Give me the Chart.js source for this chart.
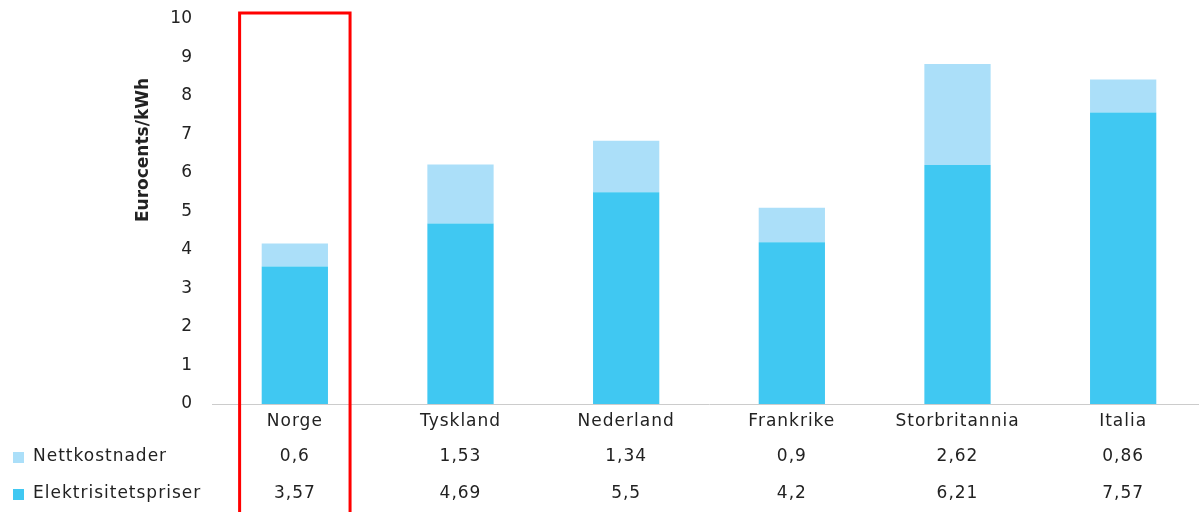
<!DOCTYPE html>
<html>
<head>
<meta charset="utf-8">
<script src="https://cdn.jsdelivr.net/npm/chart.js"></script>
<style>
  html, body { margin: 0; padding: 0; background: #fff; overflow: hidden; }
  #wrap { width: 1206px; height: 512px; position: relative; }
</style>
</head>
<body>
<div id="wrap"><canvas id="myChart" width="1206" height="512"></canvas></div>
<script>
// Data
const countries = ['Norge', 'Tyskland', 'Nederland', 'Frankrike', 'Storbritannia', 'Italia'];
const elektrisitetspriser = [3.57, 4.69, 5.5, 4.2, 6.21, 7.57];
const nettkostnader = [0.6, 1.53, 1.34, 0.9, 2.62, 0.86];
const seriesNames = ['Nettkostnader', 'Elektrisitetspriser'];
const yTicks = [0, 1, 2, 3, 4, 5, 6, 7, 8, 9, 10];

const darkBlue = '#40c8f2';
const lightBlue = '#abdff9';
const textColor = '#222';
const fontFamily = '"DejaVu Sans", sans-serif';

function fmt(v) {
    return String(v).replace('.', ',');
}

// Draws the category labels and data table under the axis, plus the title and red box
const tablePlugin = {
    id: 'tablePlugin',
    afterDraw(chart) {
        const ctx = chart.ctx;
        const x = chart.scales.x;
        const y = chart.scales.y;
        ctx.save();
        ctx.fillStyle = textColor;
        ctx.font = '17px ' + fontFamily;
        ctx.letterSpacing = '1px';
        ctx.textAlign = 'center';
        ctx.textBaseline = 'middle';

        const rows = [
            { y: 457, values: nettkostnader, name: seriesNames[0], color: lightBlue },
            { y: 494, values: elektrisitetspriser, name: seriesNames[1], color: darkBlue }
        ];

        countries.forEach((c, i) => {
            const cx = x.getPixelForValue(i);
            ctx.fillText(c, cx, 422);
            rows.forEach(r => ctx.fillText(fmt(r.values[i]), cx, r.y));
        });

        ctx.textAlign = 'left';
        rows.forEach(r => {
            ctx.fillStyle = r.color;
            ctx.fillRect(13, r.y - 5, 11, 11);
            ctx.fillStyle = textColor;
            ctx.fillText(r.name, 33, r.y);
        });

        // rotated y-axis title
        ctx.save();
        ctx.translate(144, 150);
        ctx.rotate(-Math.PI / 2);
        ctx.textAlign = 'center';
        ctx.letterSpacing = '0px';
        ctx.font = 'bold 17px ' + fontFamily;
        ctx.fillText('Eurocents/kWh', 0, 0);
        ctx.restore();

        // red highlight around Norge
        const cw = x.getPixelForValue(1) - x.getPixelForValue(0);
        const left = x.getPixelForValue(0) - cw / 3;
        const right = x.getPixelForValue(0) + cw / 3;
        const top = y.getPixelForValue(10) - 6;
        ctx.strokeStyle = '#ff0000';
        ctx.lineWidth = 3;
        ctx.beginPath();
        ctx.moveTo(left, 530);
        ctx.lineTo(left, top);
        ctx.lineTo(right, top);
        ctx.lineTo(right, 530);
        ctx.stroke();
        ctx.restore();
    }
};

const ctx = document.getElementById('myChart').getContext('2d');
new Chart(ctx, {
    type: 'bar',
    data: {
        labels: countries,
        datasets: [
            {
                label: seriesNames[1],
                data: elektrisitetspriser,
                backgroundColor: darkBlue,
                barPercentage: 0.4,
                categoryPercentage: 1
            },
            {
                label: seriesNames[0],
                data: nettkostnader,
                backgroundColor: lightBlue,
                barPercentage: 0.4,
                categoryPercentage: 1
            }
        ]
    },
    options: {
        responsive: false,
        animation: false,
        layout: { padding: { top: 19, left: 0, right: 0, bottom: 0 } },
        plugins: {
            legend: { display: false },
            tooltip: { enabled: false }
        },
        scales: {
            x: {
                stacked: true,
                grid: { display: false },
                border: { display: true, color: '#cccccc', width: 1 },
                ticks: { display: false },
                afterFit: (scale) => {
                    scale.height = 108;
                    scale.paddingLeft = 0;
                    scale.paddingRight = 0;
                }
            },
            y: {
                stacked: true,
                min: 0,
                max: 10,
                afterBuildTicks: (scale) => { scale.ticks = yTicks.map(v => ({ value: v })); },
                grid: { display: false },
                border: { display: false },
                ticks: {
                    padding: 12,
                    color: textColor,
                    font: { size: 17, family: fontFamily }
                },
                afterFit: (scale) => {
                    scale.width = 212;
                    scale.paddingTop = 0;
                    scale.paddingBottom = 0;
                }
            }
        }
    },
    plugins: [tablePlugin]
});
</script>
</body>
</html>
